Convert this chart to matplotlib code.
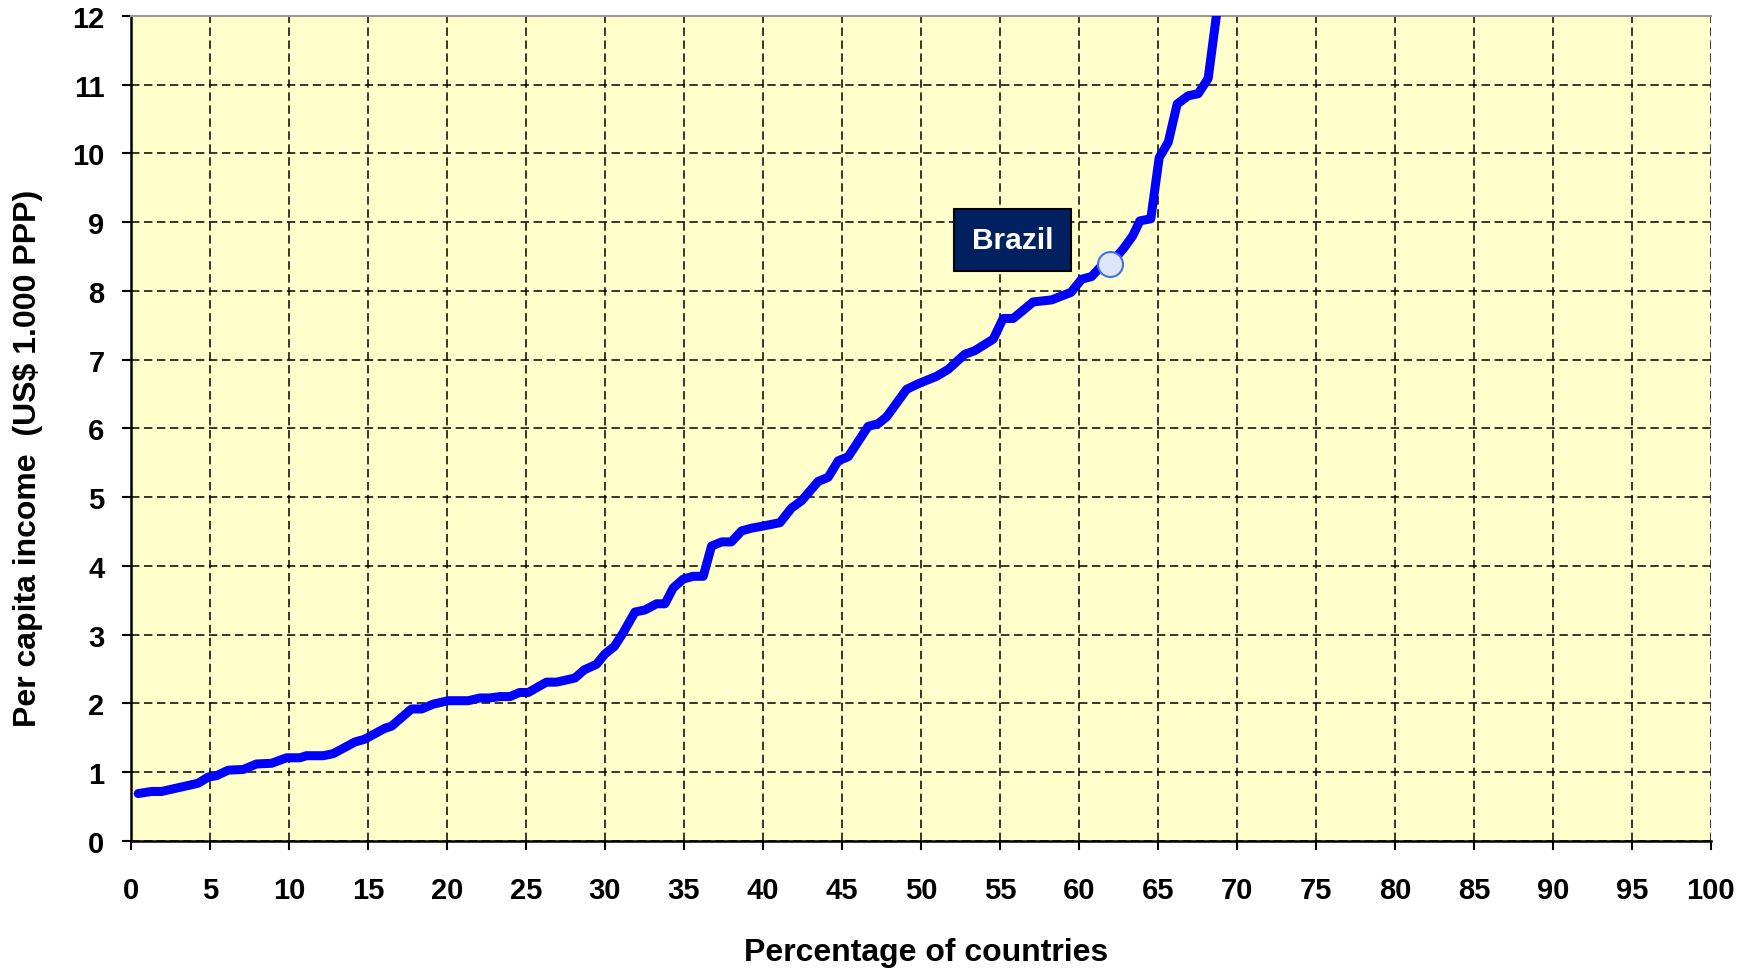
import matplotlib
matplotlib.use("Agg")
import matplotlib.pyplot as plt

plt.rcParams['font.family'] = ['Liberation Sans', 'DejaVu Sans']

# Percentage of countries (x) and per capita income in US$ 1.000 PPP (y)
pct_countries = [
    0.46, 1.31, 1.94, 3.1, 4.26, 4.89, 5.42, 6.16, 7.11, 7.95, 8.9, 9.85, 10.7,
    11.1, 12.17, 12.8, 14.18, 14.8, 16.08, 16.5, 17.0, 17.76, 18.4, 19.13, 20.08,
    21.35, 22.09, 22.7, 23.35, 23.99, 24.6, 25.15, 26.3, 26.94, 28.1, 28.7, 29.47,
    30.0, 30.6, 31.16, 31.9, 32.53, 33.27, 33.8, 34.32, 34.96, 35.59, 36.22,
    36.75, 37.39, 38.0, 38.65, 39.28, 40.0, 41.08, 41.8, 42.45, 43.5, 44.13,
    44.77, 45.4, 46.66, 47.3, 47.83, 49.1, 49.83, 51.0, 51.73, 52.78, 53.4,
    54.58, 55.2, 55.84, 57.1, 58.27, 59.5, 60.17, 60.8, 61.33, 61.96, 62.8,
    63.4, 63.86, 64.55, 65.08, 65.65, 66.22, 66.92, 67.55, 68.18, 68.7, 69.3,
]
income = [
    0.69, 0.72, 0.72, 0.78, 0.84, 0.93, 0.95, 1.03, 1.04, 1.12, 1.13, 1.21, 1.21,
    1.24, 1.24, 1.27, 1.44, 1.48, 1.64, 1.67, 1.77, 1.92, 1.92, 1.99, 2.04,
    2.04, 2.08, 2.08, 2.10, 2.10, 2.16, 2.16, 2.31, 2.31, 2.37, 2.49, 2.57,
    2.72, 2.83, 3.03, 3.33, 3.36, 3.45, 3.45, 3.68, 3.81, 3.85, 3.85,
    4.29, 4.35, 4.35, 4.51, 4.55, 4.58, 4.63, 4.84, 4.95, 5.23, 5.29,
    5.53, 5.59, 6.03, 6.07, 6.17, 6.57, 6.65, 6.76, 6.86, 7.08, 7.13,
    7.30, 7.60, 7.60, 7.84, 7.87, 7.98, 8.17, 8.21, 8.34, 8.39, 8.61,
    8.80, 9.02, 9.05, 9.94, 10.16, 10.72, 10.84, 10.87, 11.09, 12.0, 12.6,
]

brazil_label = "Brazil"
brazil_x = 61.96
brazil_y = 8.39
label_x = 55.8
label_y = 8.74

x_ticks = list(range(0, 101, 5))
y_ticks = list(range(0, 13, 1))

fig = plt.figure(figsize=(17.62, 9.70), dpi=100)
ax = fig.add_axes([0.0743, 0.132, 0.8967, 0.8505])
ax.set_facecolor('#FFFFCC')

ax.plot(pct_countries, income, color='#0000FF', lw=6.5, solid_joinstyle='round',
        solid_capstyle='round', zorder=3)
ax.plot([brazil_x], [brazil_y], 'o', ms=18, mfc='#DCE6F5', mec='#3D6FE6',
        mew=1.5, zorder=4)

ax.text(label_x, label_y, brazil_label, color='white', fontsize=21.5,
        fontweight='bold', ha='center', va='center', zorder=5,
        bbox=dict(boxstyle='square,pad=0.58', fc='#002060', ec='black', lw=1.5))

ax.set_xlim(0, 100)
ax.set_ylim(0, 12)
ax.set_xticks(x_ticks)
ax.set_yticks(y_ticks)

ax.grid(True, color='black', lw=1.1, linestyle=(0, (5.5, 3.0)), zorder=1)
ax.set_axisbelow(True)

for s in ['left', 'bottom']:
    ax.spines[s].set_color('black')
    ax.spines[s].set_linewidth(1.8)
ax.spines['right'].set_visible(False)
ax.spines['top'].set_color('#999999')
ax.spines['top'].set_linewidth(1.5)

ax.tick_params(axis='both', direction='out', length=6.5, width=1.5,
               labelsize=21, colors='black')
ax.tick_params(axis='x', pad=18.5)
ax.tick_params(axis='y', pad=12.5)
for lab in ax.get_xticklabels() + ax.get_yticklabels():
    lab.set_fontweight('bold')

ax.set_xlabel('Percentage of countries', fontsize=23, fontweight='bold')
ax.set_ylabel('Per capita income  (US$ 1.000 PPP)', fontsize=23,
              fontweight='bold')
ax.xaxis.set_label_coords(0.503, -0.117)
ax.yaxis.set_label_coords(-0.0557, 0.465)

fig.savefig('out.png', dpi=100)
